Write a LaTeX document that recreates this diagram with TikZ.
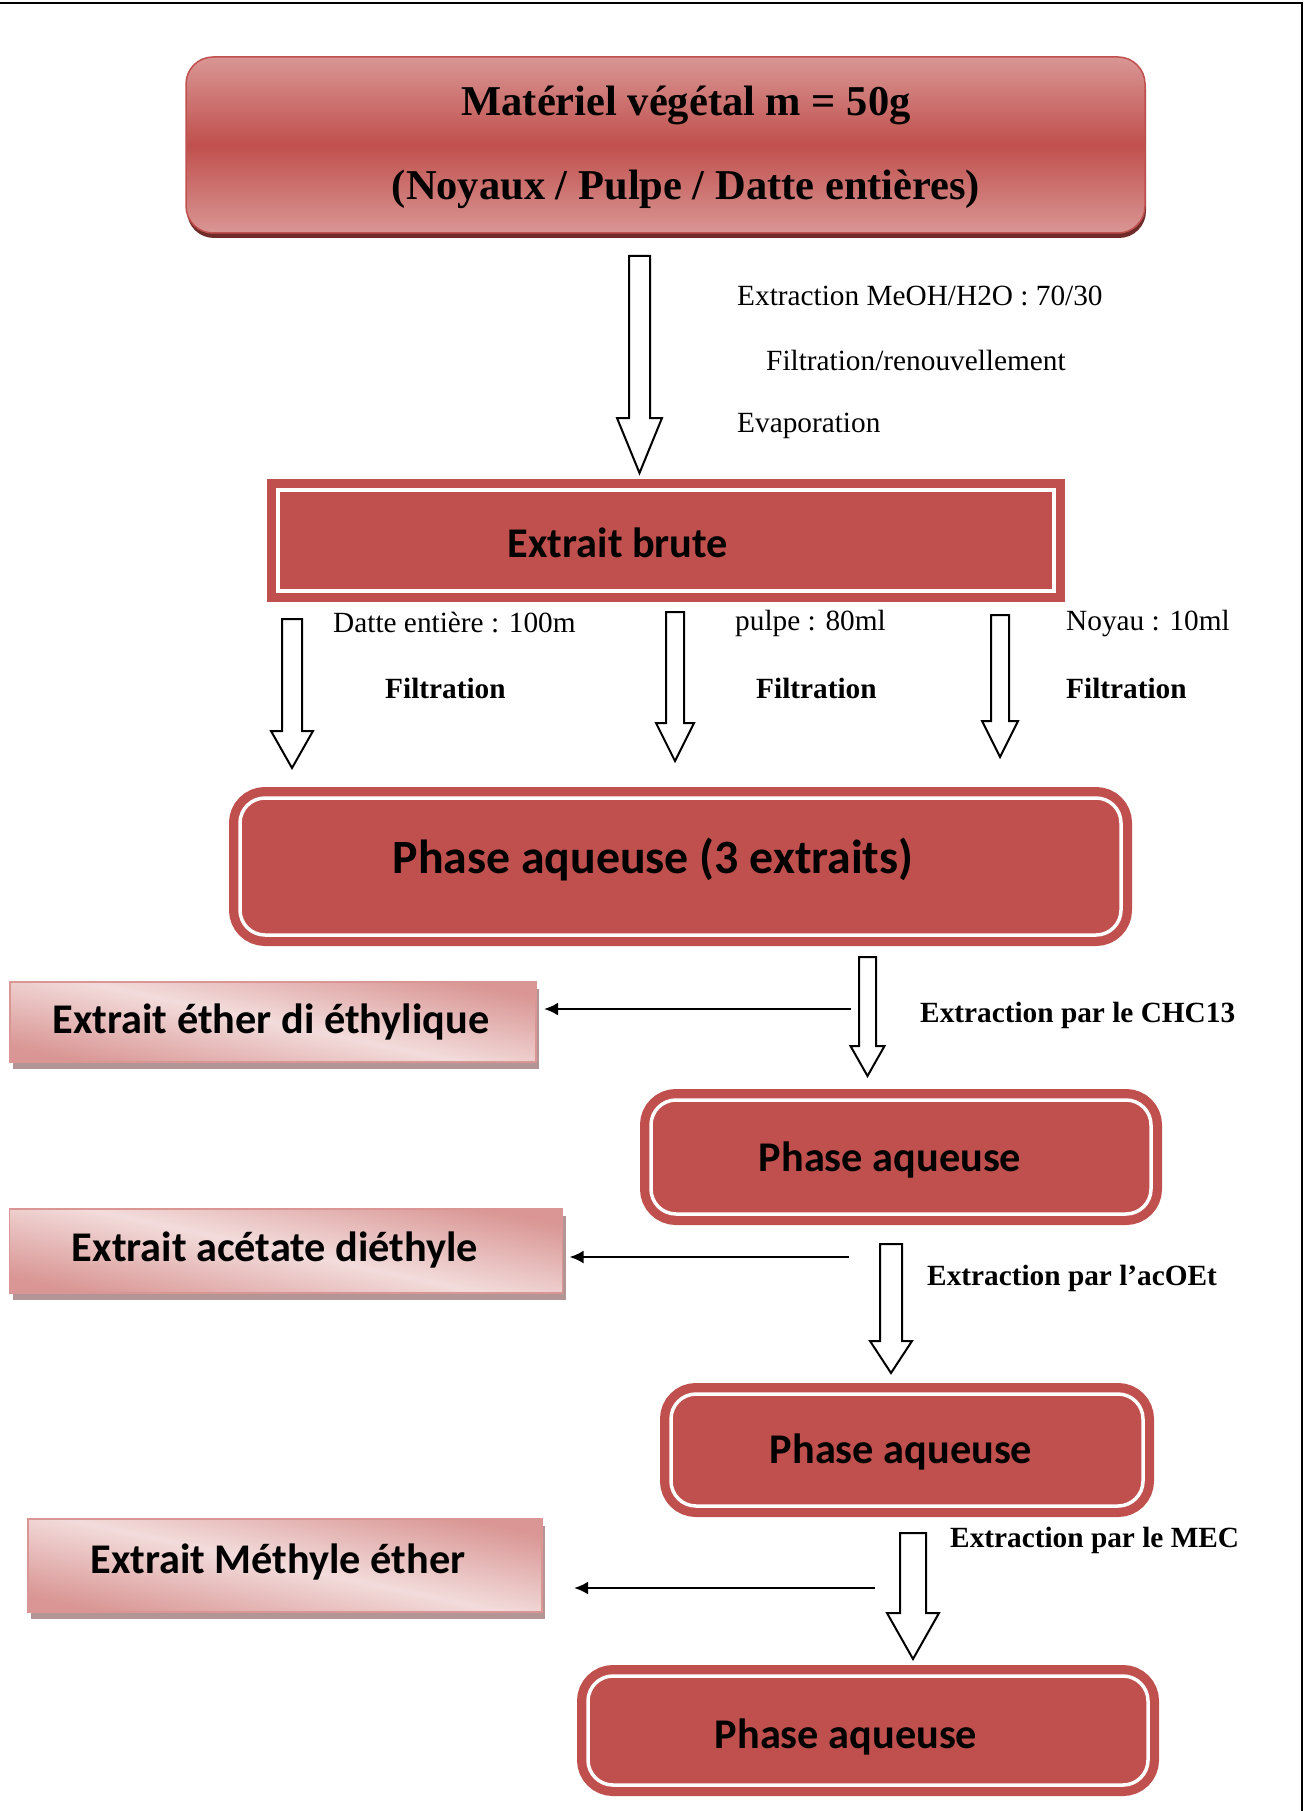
\documentclass[tikz,border=0pt]{standalone}
\usepackage{fontspec}
\setmainfont{Liberation Serif}
\newfontfamily\calibfont{Carlito}
\usepackage{tikz}
\usetikzlibrary{calc,shadows,arrows.meta}

\definecolor{boxred}{HTML}{C0504D}
\definecolor{pinkmid}{HTML}{D99694}
\definecolor{pinklight}{HTML}{F2DCDB}
\definecolor{darkshade}{HTML}{6E2B29}
\definecolor{greyshade}{HTML}{B39595}

% hollow block arrow: start, tip, shaft half width, head half width, head length
\newcommand{\fatarrow}[5]{%
  \draw[hollow] let \p1=(#1), \p2=(#2) in
    (\x1-#3,\y1) -- (\x1+#3,\y1) -- (\x1+#3,\y2+#5) -- (\x1+#4,\y2+#5)
    -- (\x1,\y2) -- (\x1-#4,\y2+#5) -- (\x1-#3,\y2+#5) -- cycle;}

\begin{document}
\begin{tikzpicture}[x=1pt,y=-1pt]
    \tikzstyle{topbox} = [rectangle, rounded corners=27pt, draw=boxred, line width=1.5pt, top color=pinkmid, bottom color=pinkmid, middle color=boxred, drop shadow={shadow xshift=1pt, shadow yshift=-5pt, fill=darkshade, opacity=1}, inner sep=0pt, outer sep=0pt]
    \tikzstyle{brutebox} = [rectangle, fill=boxred, draw=white, line width=3.5pt, preaction={draw=boxred, line width=22pt}, inner sep=0pt, outer sep=0pt]
    \tikzstyle{phasebox} = [brutebox, rounded corners=25pt]
    \tikzstyle{sidebox} = [rectangle, draw=pinkmid, line width=1.5pt, top color=pinkmid, bottom color=pinkmid, middle color=pinklight, shading angle=-12, drop shadow={shadow xshift=3pt, shadow yshift=-7pt, fill=greyshade, opacity=1}, inner sep=0pt, outer sep=0pt]
    \tikzstyle{hollow} = [draw=black, fill=white, line width=2pt, line join=miter]
    \tikzstyle{sidearr} = [black, line width=2.5pt, -{Latex[length=14pt,width=13pt]}]
    \tikzstyle{note} = [anchor=west, inner sep=0pt, font=\fontsize{29.3}{35}\selectfont]
    \tikzstyle{notebf} = [note, font=\fontsize{29.3}{35}\selectfont\bfseries]
    \tikzstyle{boxtxt} = [inner sep=0pt, font=\calibfont\fontsize{42.3}{50}\selectfont\bfseries]

    \useasboundingbox (0,0) rectangle (1312,1811);

    % Page frame
    \draw[black, line width=2pt] (0,3) -- (1302,3) -- (1302,1811);

    % Plant material
    \node[topbox, minimum width=959pt, minimum height=176pt] (mat) at (665.5,145) {};
    \node[inner sep=0pt, align=center, font=\fontsize{42.5}{84}\selectfont\bfseries] (matt) at (686,147) {Matériel végétal m = 50g\\(Noyaux / Pulpe / Datte entières)};

    % Crude extract
    \coordinate (a0s) at (639.5,256);
    \coordinate (a0e) at (639.5,473);
    \fatarrow{a0s}{a0e}{10.5pt}{22.5pt}{55pt}
    \node[note] (ext) at (737,296) {Extraction MeOH/H2O : 70/30};
    \node[note] (fil) at (766,360) {Filtration/renouvellement};
    \node[note] (eva) at (737,426) {Evaporation};

    \node[brutebox, minimum width=776pt, minimum height=101pt] (brute) at (666,540.5) {};
    \node[boxtxt] (brutet) at (618,543) {Extrait brute};

    % Three fractions
    \coordinate (a1s) at (292,619);
    \coordinate (a1e) at (292,768);
    \coordinate (a2s) at (675,612);
    \coordinate (a2e) at (675,761);
    \coordinate (a3s) at (1000,615);
    \coordinate (a3e) at (1000,757);
    \fatarrow{a1s}{a1e}{10pt}{21pt}{37pt}
    \fatarrow{a2s}{a2e}{9pt}{19pt}{38pt}
    \fatarrow{a3s}{a3e}{9pt}{18pt}{36pt}

    \node[note] (datte) at (333,623) {Datte entière : 100m};
    \node[note] (pulpe) at (735,623) {pulpe : 80ml};
    \node[note] (noyau) at (1066,623) {Noyau : 10ml};
    \node[notebf] (f1) at (385,688) {Filtration};
    \node[notebf] (f2) at (756,688) {Filtration};
    \node[notebf] (f3) at (1066,688) {Filtration};

    \node[phasebox, minimum width=881pt, minimum height=137pt] (ph1) at (680.5,866.5) {};
    \node[boxtxt, font=\calibfont\fontsize{47.8}{56}\selectfont\bfseries] (ph1t) at (653,860) {Phase aqueuse (3 extraits)};

    % Chloroform step
    \coordinate (a4s) at (867.5,957);
    \coordinate (a4e) at (867.5,1076);
    \fatarrow{a4s}{a4e}{8.5pt}{17pt}{30pt}
    \node[notebf] (chc) at (920,1015) {Extraction par le CHC13};
    \node[sidebox, minimum width=526pt, minimum height=80pt] (ether) at (273,1022) {};
    \node[boxtxt] (ethert) at (271,1022) {Extrait éther di éthylique};
    \coordinate (s1) at (851,1009);
    \draw[sidearr, shorten >=8pt] (s1) -- (s1 -| ether.east);

    \node[phasebox, minimum width=500pt, minimum height=114pt] (ph2) at (901,1157) {};
    \node[boxtxt] (ph2t) at (890,1160) {Phase aqueuse};

    % Ethyl acetate step
    \coordinate (a5s) at (891,1244);
    \coordinate (a5e) at (891,1373);
    \fatarrow{a5s}{a5e}{11pt}{21pt}{32pt}
    \node[notebf] (aco) at (927,1278) {Extraction par l’acOEt};
    \node[sidebox, minimum width=553pt, minimum height=84pt] (acet) at (286,1251) {};
    \node[boxtxt] (acett) at (275,1250) {Extrait acétate diéthyle};
    \coordinate (s2) at (849,1257);
    \draw[sidearr, shorten >=7pt] (s2) -- (s2 -| acet.east);

    \node[phasebox, minimum width=472pt, minimum height=112pt] (ph3) at (907,1450) {};
    \node[boxtxt] (ph3t) at (901,1452) {Phase aqueuse};

    % MEC step
    \coordinate (a6s) at (913,1533);
    \coordinate (a6e) at (913,1659);
    \fatarrow{a6s}{a6e}{13pt}{26pt}{46pt}
    \node[notebf] (mec) at (950,1540) {Extraction par le MEC};
    \node[sidebox, minimum width=514pt, minimum height=93pt] (methyl) at (285,1565.5) {};
    \node[boxtxt] (methylt) at (278,1562) {Extrait Méthyle éther};
    \coordinate (s3) at (875,1588);
    \draw[sidearr, shorten >=32pt] (s3) -- (s3 -| methyl.east);

    \node[phasebox, minimum width=560pt, minimum height=109pt] (ph4) at (868,1730.5) {};
    \node[boxtxt] (ph4t) at (846,1737) {Phase aqueuse};

\end{tikzpicture}
\end{document}
